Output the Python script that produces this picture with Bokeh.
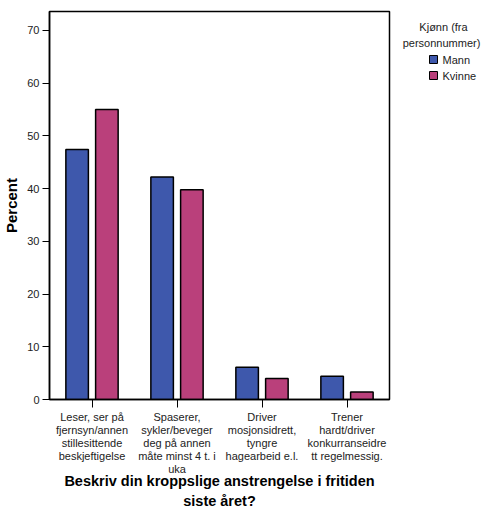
from bokeh.plotting import figure
from bokeh.layouts import row
from bokeh.models import Range1d, FactorRange, ColumnDataSource, FixedTicker
from bokeh.core.properties import value
from bokeh.transform import dodge
from bokeh.embed import file_html
from bokeh.resources import INLINE

categories = [
    "Leser, ser på\nfjernsyn/annen\nstillesittende\nbeskjeftigelse",
    "Spaserer,\nsykler/beveger\ndeg på annen\nmåte minst 4 t. i\nuka",
    "Driver\nmosjonsidrett,\ntyngre\nhagearbeid e.l.",
    "Trener\nhardt/driver\nkonkurranseidre\ntt regelmessig.",
]
series = ["Mann", "Kvinne"]
mann = [47.4, 42.2, 6.1, 4.4]
kvinne = [55.0, 39.8, 4.0, 1.4]
y_ticks = [0, 10, 20, 30, 40, 50, 60, 70]
legend_title = ["Kjønn (fra", "personnummer)"]
x_title = "Beskriv din kroppslige anstrengelse i fritiden\nsiste året?"
y_title = "Percent"

FONT = "Liberation Sans"
COLORS = ["#3E58AC", "#BA407B"]
FW, FH = 340, 388
LW, LH = 88, 90

src = ColumnDataSource(dict(cat=categories, mann=mann, kvinne=kvinne))

p = figure(
    frame_width=FW, frame_height=FH,
    x_range=FactorRange(*categories, range_padding=0),
    y_range=Range1d(0, 73.6),
    output_backend="svg", toolbar_location=None,
    min_border_left=43, min_border_top=11, min_border_right=5, min_border_bottom=104,
)
p.x_range.factor_padding = 0

p.vbar(x=dodge("cat", -0.175, range=p.x_range), top="mann", width=0.265, source=src,
       fill_color=COLORS[0], line_color="black", line_width=1.5)
p.vbar(x=dodge("cat", 0.175, range=p.x_range), top="kvinne", width=0.265, source=src,
       fill_color=COLORS[1], line_color="black", line_width=1.5)

p.xgrid.visible = False
p.ygrid.visible = False
p.outline_line_color = "black"
p.outline_line_width = 1.5

p.yaxis.ticker = FixedTicker(ticks=y_ticks)
p.yaxis.minor_tick_line_color = None
p.yaxis.major_tick_out = 7
p.yaxis.major_tick_in = 0
p.yaxis.axis_line_color = "black"
p.yaxis.axis_line_width = 1.5
p.yaxis.major_label_text_font = FONT
p.yaxis.major_label_text_font_size = "11px"
p.yaxis.major_label_text_color = "#222222"
p.yaxis.major_label_standoff = 3
p.yaxis.axis_label = y_title
p.yaxis.axis_label_text_font = FONT
p.yaxis.axis_label_text_font_size = "15px"
p.yaxis.axis_label_text_font_style = "bold"
p.yaxis.axis_label_text_color = "black"
p.yaxis.axis_label_standoff = 4

p.xaxis.major_tick_out = 8
p.xaxis.major_tick_in = 0
p.xaxis.axis_line_color = "black"
p.xaxis.axis_line_width = 1.5
p.xaxis.major_label_text_font = FONT
p.xaxis.major_label_text_font_size = "11px"
p.xaxis.major_label_text_line_height = 1.1
p.xaxis.major_label_text_color = "#222222"
p.xaxis.major_label_orientation = "horizontal"
p.xaxis.major_label_standoff = 3
p.xaxis.axis_label = x_title
p.xaxis.axis_label_text_font = FONT
p.xaxis.axis_label_text_font_size = "14.5px"
p.xaxis.axis_label_text_font_style = "bold"
p.xaxis.axis_label_text_color = "black"
p.xaxis.axis_label_standoff = -5

# legend panel (separate small figure so that it can sit outside the plot frame)
lg = figure(
    frame_width=LW, frame_height=LH, x_range=Range1d(0, LW), y_range=Range1d(LH, 0),
    output_backend="svg", toolbar_location=None,
    min_border=0, outline_line_color=None,
)
lg.axis.visible = False
lg.grid.visible = False
lg.text(x=[49, 47], y=[15, 31], text=legend_title, text_align="center", text_baseline="middle",
        text_font=value(FONT), text_font_size="11px", text_color="#222222")
lg.rect(x=[39, 39], y=[48, 64], width=8, height=8, fill_color=COLORS,
        line_color="black", line_width=1)
lg.text(x=[48, 48], y=[48, 64], text=series, text_align="left", text_baseline="middle",
        text_font=value(FONT), text_font_size="11px", text_color="#222222")

layout = row(p, lg)
open("out.html", "w").write(file_html(layout, INLINE))
